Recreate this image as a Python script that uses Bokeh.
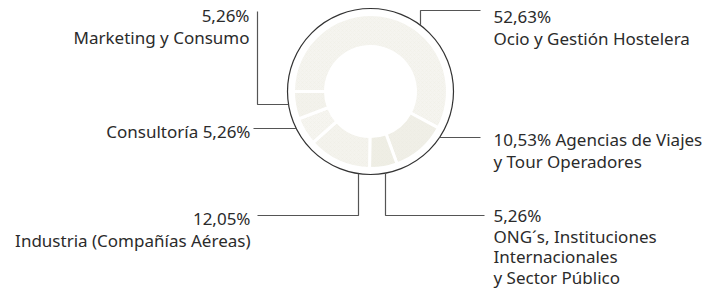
import math
from bokeh.plotting import figure
from bokeh.models import Range1d, ColumnDataSource
from bokeh.core.properties import value
from bokeh.embed import file_html
from bokeh.resources import INLINE

# ---- data ----
categories = ["Ocio y Gestión Hostelera", "Agencias de Viajes y Tour Operadores",
              "ONG´s, Instituciones Internacionales y Sector Público",
              "Industria (Compañías Aéreas)", "Consultoría", "Marketing y Consumo"]
shares = [52.63, 10.53, 5.26, 12.05, 5.26, 5.26]
share_labels = ["52,63%", "10,53%", "5,26%", "12,05%", "5,26%", "5,26%"]
label_lines = [
    ["52,63%", "Ocio y Gestión Hostelera"],
    ["10,53% Agencias de Viajes", "y Tour Operadores"],
    ["5,26%", "ONG´s, Instituciones", "Internacionales", "y Sector Público"],
    ["12,05%", "Industria (Compañías Aéreas)"],
    ["Consultoría 5,26%"],
    ["5,26%", "Marketing y Consumo"],
]
fills = ["#f5f4ef", "#f0efe7", "#efeee5", "#f4f3ed", "#f6f5f0", "#f3f2ec"]

W, H = 712, 292
def Y(y):  # screen y -> data y
    return H - y

cx, cy = 370, 91
R_OUT, R_RING_OUT, R_RING_IN = 83, 77, 45

p = figure(width=W, height=H, output_backend="svg", toolbar_location=None,
           x_range=Range1d(0, W), y_range=Range1d(0, H),
           min_border=0, min_border_left=0, min_border_right=0,
           min_border_top=0, min_border_bottom=0)
p.axis.visible = False
p.grid.visible = False
p.outline_line_color = None
p.background_fill_color = "white"

# outline circle
p.circle(x=[cx], y=[Y(cy)], radius=R_OUT, fill_color="white",
         line_color="#333333", line_width=1.2)

# wedges: start at 180 deg, go clockwise, normalised shares
total = sum(shares)
starts, ends = [], []
a = math.pi
for s in shares:
    span = s / total * 2 * math.pi
    ends.append(a)
    starts.append(a - span)
    a -= span
src = ColumnDataSource(dict(start=starts, end=ends, fill=fills, cat=categories))
p.annular_wedge(x=cx, y=Y(cy), inner_radius=R_RING_IN, outer_radius=R_RING_OUT,
                start_angle="start", end_angle="end", fill_color="fill",
                line_color="white", line_width=3, source=src,
                hatch_pattern="diagonal_cross", hatch_color="#e4e2d6",
                hatch_alpha=0.3, hatch_scale=4, hatch_weight=0.5)

# leader lines (screen coords)
def edge_y(x, sign):
    return cy + sign * math.sqrt(R_OUT**2 - (x - cx)**2)
def edge_x(y, sign):
    return cx + sign * math.sqrt(R_OUT**2 - (y - cy)**2)

leaders = [
    [(420, edge_y(420, -1)), (420, 10), (480, 10)],
    [(edge_x(137, 1), 137), (480, 137)],
    [(385, edge_y(385, 1)), (385, 215), (484, 215)],
    [(358, edge_y(358, 1)), (358, 215), (257, 215)],
    [(edge_x(128, -1), 128), (253, 128)],
    [(edge_x(104, -1), 104), (257, 104), (257, 11)],
]
p.multi_line(xs=[[pt[0] for pt in l] for l in leaders],
             ys=[[Y(pt[1]) for pt in l] for l in leaders],
             line_color="#555555", line_width=1.2)

# label anchors: (x, first line center y, align, line height)
anchors = [(493, 16, "left", 22), (493, 139, "left", 22), (493, 215, "left", 20.6),
           (250, 218, "right", 22), (250, 131, "right", 22), (249, 15, "right", 22)]
tx, ty, tt, ta = [], [], [], []
for (x0, y0, al, lh), lines in zip(anchors, label_lines):
    for i, ln in enumerate(lines):
        tx.append(x0); ty.append(Y(y0 + i * lh)); tt.append(ln); ta.append(al)
tsrc = ColumnDataSource(dict(x=tx, y=ty, text=tt, align=ta))
p.text(x="x", y="y", text="text", text_align="align", text_baseline="middle",
       text_font=value("Noto Sans"), text_font_size="17px", text_color="#2b2b2b",
       source=tsrc)

open("out.html", "w").write(file_html(p, INLINE))
